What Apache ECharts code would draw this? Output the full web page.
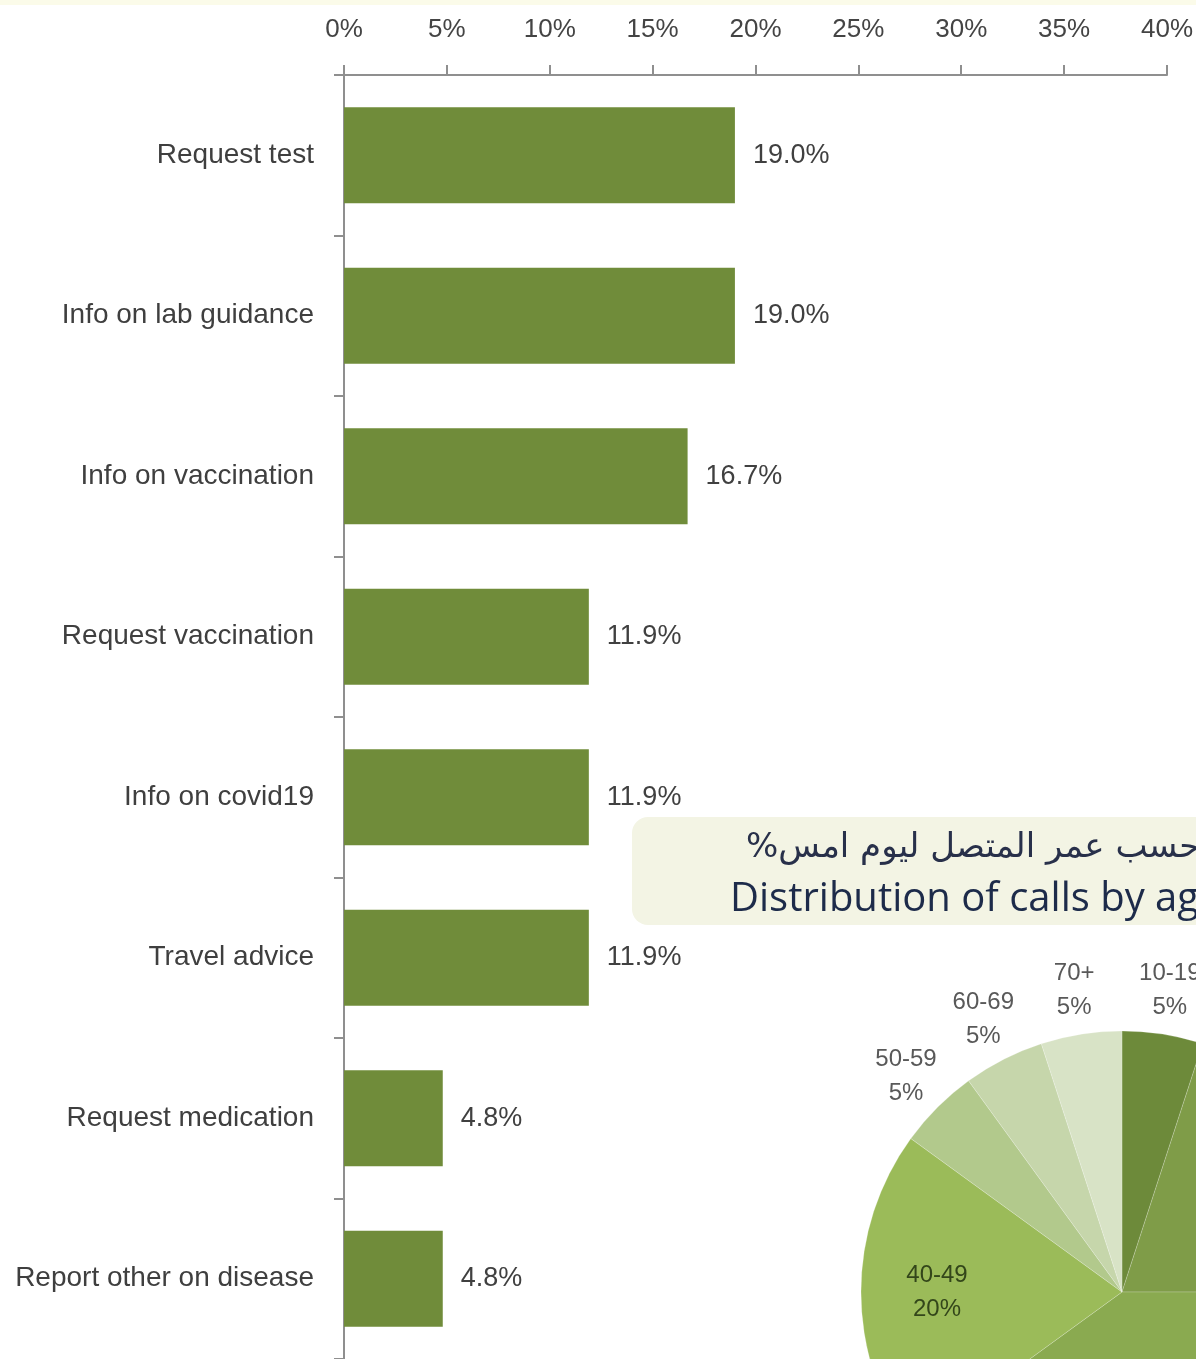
<!DOCTYPE html>
<html>
<head>
<meta charset="utf-8">
<script src="https://cdn.jsdelivr.net/npm/echarts@6/dist/echarts.min.js"></script>
<style>
  html, body { margin: 0; padding: 0; background: #fff; }
  #chart { width: 1196px; height: 1359px; }
</style>
</head>
<body>
<div id="chart"></div>
<script>
// 条形图数据: 来电原因
const reasons = ['Request test', 'Info on lab guidance', 'Info on vaccination', 'Request vaccination',
  'Info on covid19', 'Travel advice', 'Request medication', 'Report other on disease']
const reasonShares = [19.0, 19.0, 16.7, 11.9, 11.9, 11.9, 4.8, 4.8]
const axisTicks = [0, 5, 10, 15, 20, 25, 30, 35, 40] // 顶部刻度 (%)

// 饼图数据: 来电者年龄分布
const ageGroups = ['10-19', '20-29', '30-39', '40-49', '50-59', '60-69', '70+']
const ageShares = [5, 20, 40, 20, 5, 5, 5]
const ageColors = ['#6d8a3a', '#7f9c48', '#8aaa50', '#9bbb59', '#b2c98c', '#c6d6ab', '#d8e3c6']
const insideLabels = ['20-29', '30-39', '40-49'] // 标签在扇区内部

const titleAr = 'توزيع المكالمات حسب عمر المتصل ليوم امس%\u200F'
const titleEn = 'Distribution of calls by age'

const chartIns = echarts.init(document.getElementById('chart'))
const font = "'Liberation Sans', Arial, sans-serif"

// 透明的辅助饼图, 只用来放置标签
const labelRing = (radius, names, color) => ({
  type: 'pie',
  center: [1122, 1292],
  radius: radius,
  startAngle: 90,
  silent: true,
  z: 5,
  labelLine: { show: false },
  emphasis: { disabled: true },
  data: ageGroups.map((name, i) => ({
    name,
    value: ageShares[i],
    itemStyle: { color: 'transparent' },
    label: {
      show: names.includes(name),
      position: 'inside',
      formatter: name + '\n' + ageShares[i] + '%',
      fontFamily: font,
      fontSize: 24,
      lineHeight: 34,
      color: color
    }
  }))
})

const option = {
  animation: false,
  backgroundColor: '#ffffff',
  grid: {
    left: 344,
    top: 75,
    width: 824,
    height: 1288 // 最后一个类别超出画布底部
  },
  xAxis: {
    type: 'value',
    position: 'top',
    min: axisTicks[0],
    max: axisTicks[axisTicks.length - 1],
    interval: 5,
    axisLine: { show: true, lineStyle: { color: '#8f8f8f', width: 2 } },
    axisTick: { show: true, length: 10, lineStyle: { color: '#8f8f8f', width: 2 } },
    splitLine: { show: false },
    axisLabel: {
      formatter: '{value}%',
      margin: 32,
      fontFamily: font,
      fontSize: 26,
      color: '#444444'
    }
  },
  yAxis: {
    type: 'category',
    inverse: true,
    data: reasons,
    axisLine: { show: true, lineStyle: { color: '#8f8f8f', width: 2 } },
    axisTick: { show: true, length: 10, lineStyle: { color: '#8f8f8f', width: 2 } },
    axisLabel: {
      margin: 30,
      padding: [6, 0, 0, 0],
      fontFamily: font,
      fontSize: 28,
      color: '#3f3f3f'
    }
  },
  series: [
    // 条形图
    {
      type: 'bar',
      data: reasonShares,
      barWidth: 96,
      itemStyle: { color: '#708c3a' },
      label: {
        show: true,
        position: 'right',
        distance: 18,
        padding: [6, 0, 0, 0],
        formatter: (p) => p.value.toFixed(1) + '%',
        fontFamily: font,
        fontSize: 27,
        color: '#404040'
      },
      z: 2
    },
    // 年龄饼图
    {
      type: 'pie',
      center: [1122, 1292],
      radius: 261,
      startAngle: 90,
      z: 4,
      label: { show: false },
      labelLine: { show: false },
      emphasis: { disabled: true },
      data: ageGroups.map((name, i) => ({
        name,
        value: ageShares[i],
        itemStyle: { color: ageColors[i], borderColor: 'rgba(255,255,255,0.2)', borderWidth: 1 }
      }))
    },
    // 内部标签
    labelRing([164, 200], insideLabels, '#33461a'),
    // 外部标签
    labelRing([285, 320], ageGroups.filter(n => !insideLabels.includes(n)), '#595959')
  ],
  graphic: [
    // 顶部淡黄色条
    { type: 'rect', z: 0, shape: { x: 0, y: 0, width: 1196, height: 5 }, style: { fill: '#fbfbe9' } },
    // 饼图标题框
    {
      type: 'rect', z: 3,
      shape: { x: 632, y: 817, width: 700, height: 108, r: 16 },
      style: { fill: '#f3f4e4' }
    },
    {
      type: 'text', z: 4, x: 746, y: 848,
      style: {
        text: titleAr, fill: '#28304a', fontFamily: "'DejaVu Sans', sans-serif",
        fontSize: 34, textAlign: 'left', textVerticalAlign: 'middle'
      }
    },
    {
      type: 'text', z: 4, x: 730, y: 900,
      style: {
        text: titleEn, fill: '#1d2b4a', fontFamily: "'Open Sans', sans-serif",
        fontSize: 40, textAlign: 'left', textVerticalAlign: 'middle'
      }
    }
  ]
}
chartIns.setOption(option)
</script>
</body>
</html>
